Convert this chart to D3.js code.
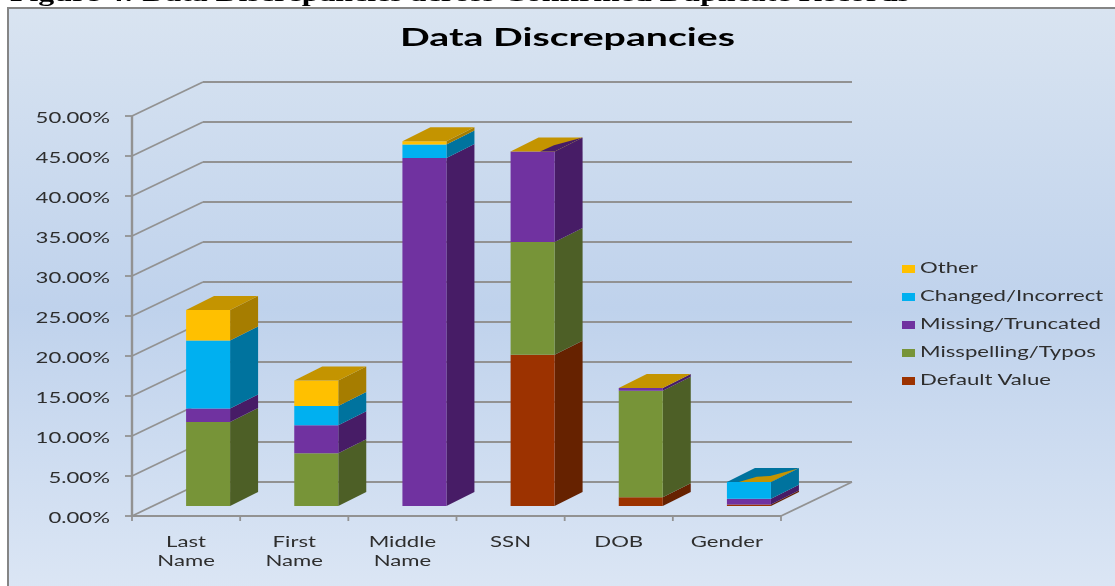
<!DOCTYPE html>
<html><head><meta charset="utf-8">
<script src="https://cdn.jsdelivr.net/npm/d3@7"></script>
<style>html,body{margin:0;padding:0;background:#fff;overflow:hidden}svg{display:block}</style>
</head><body><svg id="c" width="1115" height="586"></svg>
<script>
const categories = ["Last Name","First Name","Middle Name","SSN","DOB","Gender"];
const seriesNames = ["Default Value","Misspelling/Typos","Missing/Truncated","Changed/Incorrect","Other"];
const defaultValue = [0,0,0,18.9,1.1,0.2];
const misspelling = [10.5,6.6,0,14.1,13.3,0];
const missing = [1.7,3.5,43.5,11.3,0.35,0.7];
const changed = [8.5,2.4,1.7,0,0,2.1];
const other = [3.8,3.2,0.4,0,0,0];
const yTicks = [0,5,10,15,20,25,30,35,40,45,50];
const frontColors = ["#9c3200","#779439","#7030a0","#00b0f0","#ffc000"];
const sideColors = ["#662100","#4d5e26","#471e66","#00739e","#a67d00"];
const topColor = "#c49400";
const seriesValues = [defaultValue,misspelling,missing,changed,other];
// Rendering artefacts on two top faces, in face fractions (along width, along depth)
const topFacets = {
  "SSN": {base: topColor, fill: "#471e66", pts: [[0.67,0],[1,0],[1,1],[0.7,0.45]]},
  "Gender": {base: "#00739e", fill: topColor, pts: [[0.27,0],[1,0],[1,0.95],[0.71,0.425],[0.44,0.375]]}
};

const svg = d3.select("#c");
const defs = svg.append("defs");
const g = defs.append("linearGradient").attr("id","bg").attr("x1",0).attr("x2",0).attr("y1",0).attr("y2",1);
[[0,"#d9e4f1"],[0.5,"#bfd2ec"],[1,"#dde7f5"]].forEach(s=>g.append("stop").attr("offset",s[0]).attr("stop-color",s[1]));
defs.append("filter").attr("id","soft").attr("filterUnits","userSpaceOnUse").attr("x",0).attr("y",-10).attr("width",1115).attr("height",600)
  .append("feGaussianBlur").attr("stdDeviation",0.45);
const root = svg.append("g").attr("filter","url(#soft)");

const serif = "'Liberation Serif'", font = "Lato";
const fit = (sel,w)=>sel.attr("textLength",w).attr("lengthAdjust","spacingAndGlyphs");

fit(root.append("text").attr("x",10).attr("y",0.5).attr("font-family",serif).attr("font-weight","bold").attr("font-size",24).attr("fill","#000")
  .text("Figure 4: Data Discrepancies across Confirmed Duplicate Records"),900);
root.append("rect").attr("x",8).attr("y",8).attr("width",1120).attr("height",600).attr("fill","url(#bg)").attr("stroke","#858585").attr("stroke-width",2);

const x = d3.scaleBand().domain(categories).range([132,781]);
const y = d3.scaleLinear().domain([0,50]).range([516,116]);
const DX = 71, DY = -34;
const gridC = "#929292";
const line = (a,b,c,d,w=2.2)=>root.append("line").attr("x1",a).attr("y1",b).attr("x2",c).attr("y2",d).attr("stroke",gridC).attr("stroke-width",w);

// measure natural width to apply the reference's horizontal stretch
const probe = root.append("text").attr("font-family",font).attr("font-size",15).text("Missing/Truncated");
const stretch = 181 / probe.node().getComputedTextLength();
probe.remove();
const label = (px,py,anchor,txt)=>{
  const t = root.append("text").attr("x",px).attr("y",py).attr("text-anchor",anchor).attr("font-family",font).attr("font-size",15).attr("fill","#2e2e2e").text(txt);
  fit(t, t.node().getComputedTextLength()*stretch);
};

yTicks.forEach(t=>{
  const py=y(t);
  if(t>0) line(132,py,132+DX,py+DY,1.8);
  line(132+DX,py+DY,781+DX,py+DY);
  line(125,py,132,py,1.8);
  label(110,py+7,"end",t.toFixed(2)+"%");
});
line(132,y(0),132,y(50),2.4);
line(132,y(0),781,y(0));
line(132,y(0),132+DX,y(0)+DY,1.8);
line(781,y(0),781+DX,y(0)+DY,1.8);
categories.forEach(c=>line(x(c),516,x(c),521,1.8));
line(781,516,781,521,1.8);

const depth0 = 0.31, barW = 44, sideDx = 28, sideDy = -14;
const poly = (pts,fill)=>root.append("polygon").attr("points",pts.map(p=>p.join(",")).join(" ")).attr("fill",fill);
categories.forEach((c,i)=>{
  const cx = x(c)+x.bandwidth()/2 + depth0*DX;
  const L = cx-barW/2, R = cx+barW/2, off = -10;
  let acc = 0;
  seriesValues.forEach((vals,s)=>{
    const v = vals[i];
    if(v<=0) return;
    const b = y(acc)+off, t = y(acc+v)+off;
    poly([[R,b],[R+sideDx,b+sideDy],[R+sideDx,t+sideDy],[R,t]],sideColors[s]);
    poly([[L,b],[R,b],[R,t],[L,t]],frontColors[s]);
    acc += v;
  });
  const t = y(acc)+off, facet = topFacets[c];
  poly([[L,t],[R,t],[R+sideDx,t+sideDy],[L+sideDx,t+sideDy]],facet?facet.base:topColor);
  if(facet) poly(facet.pts.map(p=>[L+p[0]*barW+p[1]*sideDx,t+p[1]*sideDy]),facet.fill);
});

fit(root.append("text").attr("x",400).attr("y",46).attr("font-family",font).attr("font-weight","bold").attr("font-size",24).attr("fill","#000").text("Data Discrepancies"),335);

categories.forEach(c=>{
  const words=c.split(" "), cx=x(c)+x.bandwidth()/2;
  words.forEach((w,i)=>label(cx,547+i*18.5,"middle",w));
});

const legendY = d3.scalePoint().domain(seriesNames.slice().reverse()).range([269,381]);
seriesNames.forEach((n,s)=>{
  root.append("rect").attr("x",902).attr("y",legendY(n)-4).attr("width",13).attr("height",8).attr("fill",frontColors[s]);
  label(920,legendY(n)+4,"start",n);
});
</script></body></html>
